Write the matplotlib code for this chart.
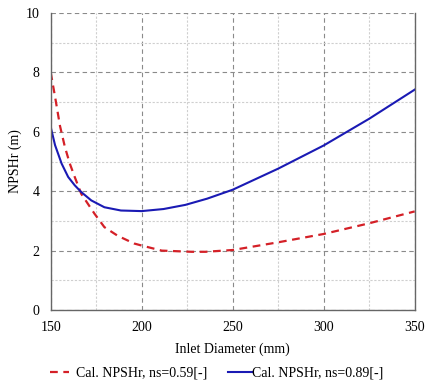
import matplotlib
matplotlib.use('Agg')
import matplotlib.pyplot as plt
import numpy as np
from matplotlib.ticker import MultipleLocator

# values
d_red = [150, 152.4, 155.1, 157.8, 160.5, 163.2, 166.8, 170.5, 174.1, 179.5, 186.8,
         195.8, 200, 211, 227.5, 235, 250, 275, 300, 325, 350]
npsh_red = [8.0, 7.18, 6.2, 5.49, 4.93, 4.48, 3.91, 3.57, 3.24, 2.79, 2.5,
            2.24, 2.17, 2.0, 1.96, 1.96, 2.02, 2.28, 2.56, 2.92, 3.32]

d_blue = [150, 152.4, 156, 159.6, 163.2, 166.8, 172.3, 179.5, 188.6, 200, 212,
          224, 236, 250, 275, 300, 325, 350]
npsh_blue = [6.16, 5.55, 4.93, 4.48, 4.2, 3.97, 3.69, 3.46, 3.35, 3.33, 3.4,
             3.54, 3.75, 4.05, 4.76, 5.54, 6.44, 7.42]

labels = ['Cal. NPSHr, ns=0.59[-]', 'Cal. NPSHr, ns=0.89[-]']

plt.rcParams['font.family'] = ['Liberation Serif', 'DejaVu Serif']
plt.rcParams['font.size'] = 10

fig = plt.figure(figsize=(4.37, 3.88), dpi=100)
ax = fig.add_axes([0.116, 0.201, 0.833, 0.7655])

l1, = ax.plot(d_red, npsh_red, color='#d42027', lw=1.6, ls=(0, (3.5, 2.5)))
l2, = ax.plot(d_blue, npsh_blue, color='#1a1ab4', lw=1.5)

ax.set_xlim(150, 350)
ax.set_ylim(0, 10)
ax.xaxis.set_major_locator(MultipleLocator(50))
ax.xaxis.set_minor_locator(MultipleLocator(25))
ax.yaxis.set_major_locator(MultipleLocator(2))
ax.yaxis.set_minor_locator(MultipleLocator(1))
ax.grid(which='major', color='#8a8a8a', ls=(0, (4, 3)), lw=0.8)
ax.grid(which='minor', color='#cfcfcf', ls=(0, (2, 1.5)), lw=0.8)
ax.set_axisbelow(True)
ax.tick_params(which='both', length=0, pad=8, labelsize=10)

ax.spines['top'].set_visible(False)
for s in ['left', 'bottom', 'right']:
    ax.spines[s].set_color('#666666')
    ax.spines[s].set_linewidth(1.0)

ax.set_xlabel('Inlet Diameter (mm)', fontsize=10, labelpad=6)
ax.set_ylabel('NPSHr (m)', fontsize=10, labelpad=3)

# two separate legend entries, placed like the reference
fig.legend([l1], [labels[0]], loc='center left', bbox_to_anchor=(50 / 437, 15 / 388),
           frameon=False, fontsize=10, borderpad=0, borderaxespad=0,
           handlelength=1.35, handletextpad=0.5)
fig.legend([l2], [labels[1]], loc='center left', bbox_to_anchor=(228 / 437, 15 / 388),
           frameon=False, fontsize=10, borderpad=0, borderaxespad=0,
           handlelength=1.75, handletextpad=0.0)

fig.savefig('out.png', dpi=100)
